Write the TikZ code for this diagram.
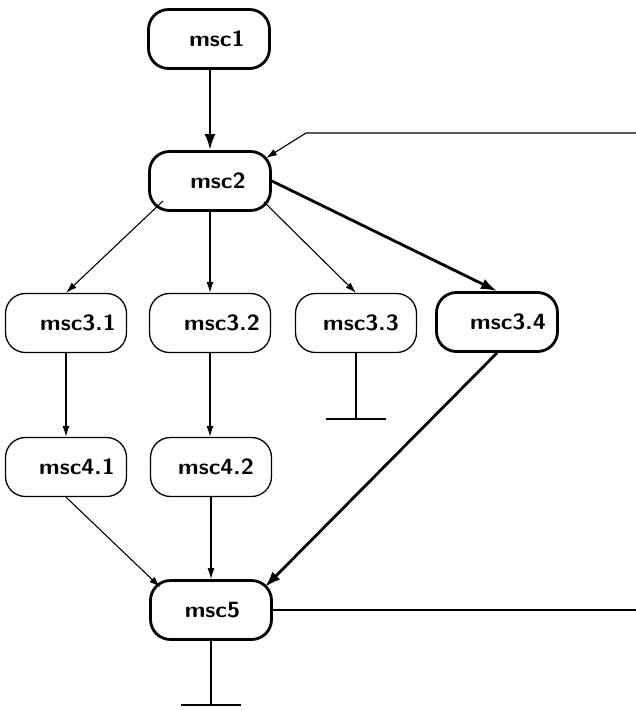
\documentclass[tikz,border=0pt]{standalone}
\usetikzlibrary{arrows.meta,calc}
\newcommand\mylbl[2]{\hspace{#1}\scalebox{1.08}[1]{#2}}
\begin{document}
\begin{tikzpicture}[x=1pt,y=-1pt,
  box/.style={draw, rounded corners=20pt, minimum width=121pt, minimum height=59pt,
    inner sep=0pt, font=\fontsize{22}{26}\selectfont\sffamily\bfseries, line width=1.3pt},
  boldbox/.style={box, line width=2.8pt},
  tarrow/.style={line width=1.1pt, -{Latex[length=11pt,width=7pt]}},
  barrow/.style={line width=2.8pt, -{Latex[length=16pt,width=11pt]}},
  tline/.style={line width=1.3pt},
  bline/.style={line width=2.8pt},
]
\useasboundingbox (0,0) rectangle (636,710);
\node[boldbox] (m1) at (209,39) {\mylbl{16pt}{msc1}};
\node[boldbox] (m2) at (210,181) {\mylbl{16pt}{msc2}};
\node[box] (m31) at (66,323) {\mylbl{24pt}{msc3.1}};
\node[box] (m32) at (210,323) {\mylbl{24pt}{msc3.2}};
\node[box] (m33) at (356,323) {\mylbl{10pt}{msc3.3}};
\node[boldbox] (m34) at (497,322) {\mylbl{22pt}{msc3.4}};
\node[box] (m41) at (66,467) {\mylbl{22pt}{msc4.1}};
\node[box] (m42) at (211,467) {\mylbl{10pt}{msc4.2}};
\node[boldbox] (m5) at (211,610) {\mylbl{3pt}{msc5}};
\draw[barrow] (m1.south -| m2) -- (m2);
\draw[tarrow] ($(m2.south west)+(15,-11)$) -- (m31.north);
\draw[tarrow] (m2) -- (m32);
\draw[tarrow] ($(m2.south east)+(-8,-10)$) -- (m33.north);
\draw[barrow] (m2.east) -- (m34.north);
\draw[tarrow] (m31) -- (m41);
\draw[tarrow] (m32) -- (m42.north -| m32);
\draw[tarrow] (m41.south) -- ($(m5.north west)+(11,8)$);
\draw[tarrow] (m42) -- (m5);
\draw[barrow] (m34.south) -- ($(m5.north east)+(-8,8)$);
\coordinate (t3) at (356,419);
\draw[tline] (m33.south) -- (t3);
\draw[bline] ($(t3)+(-30,0)$) -- ($(t3)+(30,0)$);
\coordinate (t5) at (211,705);
\draw[bline] (m5.south) -- (t5);
\draw[bline] ($(t5)+(-30,0)$) -- ($(t5)+(30,0)$);
\coordinate (r5) at (636,610);
\draw[tline] (m5.east) -- (r5);
\coordinate (rt) at (636,133);
\coordinate (bend) at (306,133);
\draw[tarrow] (rt) -- (bend) -- ($(m2.north east)+(-6,8)$);
\end{tikzpicture}
\end{document}
